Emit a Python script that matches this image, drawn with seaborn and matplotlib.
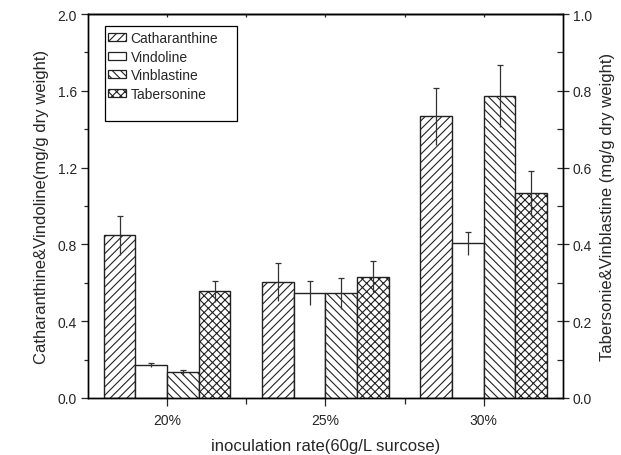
import matplotlib
matplotlib.use("Agg")
import matplotlib.pyplot as plt
from matplotlib.patches import Patch, Rectangle
from matplotlib.ticker import MultipleLocator, FixedLocator, FormatStrFormatter
import numpy as np
import pandas as pd
import seaborn as sns

# ---- data -------------------------------------------------------------
rates = ["20%", "25%", "30%"]
compounds = ["Catharanthine", "Vindoline", "Vinblastine", "Tabersonine"]

# left axis (mg/g dry weight)
catharanthine = [0.847, 0.603, 1.467]
catharanthine_err = [0.100, 0.100, 0.148]
vindoline = [0.173, 0.547, 0.806]
vindoline_err = [0.009, 0.060, 0.060]

# right axis (mg/g dry weight)
vinblastine = [0.067, 0.273, 0.786]
vinblastine_err = [0.007, 0.040, 0.080]
tabersonine = [0.278, 0.316, 0.533]
tabersonine_err = [0.028, 0.040, 0.059]

hatches = {"Catharanthine": "////", "Vindoline": "",
           "Vinblastine": "\\\\\\\\", "Tabersonine": "xxxx"}

# ---- tidy tables ------------------------------------------------------
def frame(name, vals, errs):
    return pd.DataFrame({"rate": rates, "compound": name,
                         "value": vals, "err": errs})

left_df = pd.concat([frame("Catharanthine", catharanthine, catharanthine_err),
                     frame("Vindoline", vindoline, vindoline_err)],
                    ignore_index=True)
right_df = pd.concat([frame("Vinblastine", vinblastine, vinblastine_err),
                      frame("Tabersonine", tabersonine, tabersonine_err)],
                     ignore_index=True)

# ---- style ------------------------------------------------------------
sns.set_style("ticks")
plt.rcParams["font.family"] = ["Liberation Sans", "DejaVu Sans"]
plt.rcParams["hatch.linewidth"] = 0.8
plt.rcParams["hatch.color"] = "#222222"

EDGE = "#222222"
fig = plt.figure(figsize=(6.21, 4.56), dpi=100)
ax = fig.add_axes([0.1417, 0.125, 0.7649, 0.842])
ax2 = ax.twinx()

white = {c: "white" for c in compounds}
for axis, df in ((ax, left_df), (ax2, right_df)):
    sns.barplot(data=df, x="rate", y="value", hue="compound",
                order=rates, hue_order=compounds, palette=white,
                edgecolor=EDGE, linewidth=1.0, errorbar=None,
                width=0.8, dodge=True, legend=False, ax=axis, zorder=2)

# hatch each bar and add error bars (full line, cap on top only)
for axis, df in ((ax, left_df), (ax2, right_df)):
    for p in axis.patches:
        h = p.get_height()
        if not np.isfinite(h) or h == 0:
            continue
        cx = p.get_x() + p.get_width() / 2
        ri = int(round(cx))
        ci = int(round((cx - ri + 0.3) / 0.2))
        name = compounds[ci]
        p.set_hatch(hatches[name])
        row = df[(df.rate == rates[ri]) & (df.compound == name)].iloc[0]
        axis.errorbar(cx, row.value, yerr=row.err, fmt="none",
                      ecolor="#333333", elinewidth=0.9, capsize=0, zorder=4)
        axis.plot(cx, row.value + row.err, marker="_", markersize=5,
                  markeredgewidth=0.9, color="#333333", zorder=4)

# ---- axes -------------------------------------------------------------
ax.set_xlim(-0.5, 2.5)
ax.set_ylim(0, 2.0)
ax2.set_ylim(0, 1.0)

ax.yaxis.set_major_locator(MultipleLocator(0.4))
ax.yaxis.set_minor_locator(MultipleLocator(0.2))
ax.yaxis.set_major_formatter(FormatStrFormatter("%.1f"))
ax2.yaxis.set_major_locator(MultipleLocator(0.2))
ax2.yaxis.set_minor_locator(MultipleLocator(0.1))
ax2.yaxis.set_major_formatter(FormatStrFormatter("%.1f"))
ax.xaxis.set_minor_locator(FixedLocator([0.5, 1.5]))

ax.tick_params(axis="y", which="major", direction="out", length=5,
               width=0.9, labelsize=10, pad=3)
ax.tick_params(axis="y", which="minor", direction="out", length=3, width=0.9)
ax.tick_params(axis="x", which="major", direction="out", length=6,
               width=0.9, labelsize=10, pad=5)
ax.tick_params(axis="x", which="minor", direction="out", length=4, width=0.9)
ax2.tick_params(axis="y", which="major", direction="inout", length=8,
                width=0.9, labelsize=10, pad=3)
ax2.tick_params(axis="y", which="minor", direction="in", length=4, width=0.9)

top = ax.secondary_xaxis("top")
top.set_xticks([0, 1, 2])
top.xaxis.set_minor_locator(FixedLocator([0.5, 1.5]))
top.tick_params(axis="x", which="both", direction="in", length=2.5,
                width=0.9, labeltop=False)

for a in (ax, ax2):
    for s in a.spines.values():
        s.set_visible(True)
        s.set_color("black")
        s.set_linewidth(1.0)
top.spines["top"].set_linewidth(1.0)

ax.set_xlabel("inoculation rate(60g/L surcose)", fontsize=12, labelpad=8)
ax.set_ylabel("Catharanthine&Vindoline(mg/g dry weight)", fontsize=12,
              labelpad=6)
ax2.set_ylabel("Tabersonie&Vinblastine (mg/g dry weight)", fontsize=12,
               labelpad=6)

# ---- legend (entries plus a roomy box drawn behind them) --------------
handles = [Patch(facecolor="white", edgecolor=EDGE, linewidth=0.9,
                 hatch=hatches[c], label=c) for c in compounds]
leg = ax2.legend(handles=handles, loc="upper left",
                 bbox_to_anchor=(0.034, 0.967), borderaxespad=0,
                 fontsize=10, handlelength=1.3, handleheight=0.5,
                 handletextpad=0.3, borderpad=0.3, labelspacing=0.34,
                 frameon=False)
leg.set_zorder(10)
box = Rectangle((0.0358, 0.7214), 0.2779, 0.2474, transform=ax2.transAxes,
                facecolor="white", edgecolor="black", linewidth=0.9,
                zorder=9)
ax2.add_patch(box)

fig.savefig("out.png", dpi=100)
